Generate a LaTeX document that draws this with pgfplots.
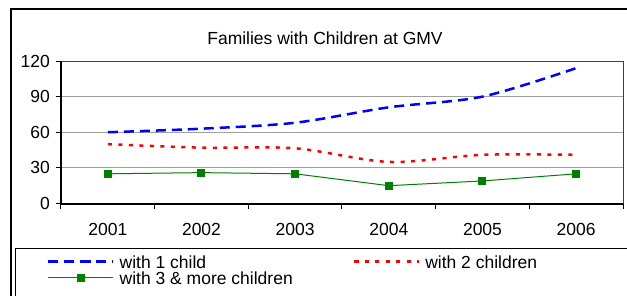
\documentclass[border=0pt]{standalone}
\usepackage{fontspec}
\setmainfont{Liberation Sans}
\usepackage{pgfplots}
\pgfplotsset{compat=1.18}
\definecolor{xlblue}{RGB}{0,0,255}
\definecolor{xlred}{RGB}{255,0,0}
\definecolor{xlgreen}{RGB}{0,128,0}
\begin{document}
\fontsize{17.5}{20}\selectfont
\begin{tikzpicture}[x=1pt,y=1pt]
\begin{axis}[
  scale only axis, width=562pt, height=142.5pt,
  xmin=0.5, xmax=6.5, ymin=0, ymax=120,
  ytick={0,30,60,90,120},
  xtick={1,2,3,4,5,6},
  xticklabels={2001,2002,2003,2004,2005,2006},
  minor xtick={0.5,1.5,2.5,3.5,4.5,5.5,6.5},
  major x tick style={draw=none},
  tick align=outside,
  major tick length=5pt, minor tick length=5pt,
  tick style={black, line width=1pt},
  xtick pos=bottom, ytick pos=left,
  ymajorgrids,
  grid style={gray!75, line width=0.8pt},
  axis line style={draw=black!75, line width=1pt},
  /pgf/number format/assume math mode=true,
  ticklabel style={font=\fontsize{17.5}{20}\selectfont},
  yticklabel style={anchor=east, inner sep=0pt, xshift=-6pt},
  xticklabel style={anchor=base, inner sep=0pt, yshift=-27pt},
  legend columns=2,
  legend cell align=left,
  legend style={at={(-0.025,-0.361)}, anchor=north west, draw=none, fill=none,
    inner sep=0pt, row sep=3pt,
    font=\fontsize{17.5}{20}\selectfont,
    nodes={inner sep=0pt, text height=13pt, text depth=0pt},
    /tikz/every odd column/.append style={column sep=5pt},
    /tikz/every even column/.append style={column sep=60pt}},
  legend image code/.code={\draw[mark repeat=2,mark phase=2,#1] plot coordinates {(0pt,0pt) (32.5pt,0pt) (65pt,0pt)};},
  clip=false
]
\addplot[xlblue, line width=2.5pt, dash pattern=on 10pt off 6pt, smooth, tension=0.5] coordinates {(1,60) (2,63) (3,68) (4,81) (5,90) (6,114)};
\addlegendentry{with 1 child}
\addplot[xlred, line width=2.5pt, dash pattern=on 4pt off 6.5pt, smooth, tension=0.5] coordinates {(1,50) (2,47) (3,46.5) (4,35) (5,41) (6,41)};
\addlegendentry{with 2 children}
\addplot[xlgreen, line width=1pt, mark=square*, mark size=3.5pt, mark options={solid, fill=xlgreen, draw=xlgreen}] coordinates {(1,25) (2,26) (3,25) (4,15) (5,19) (6,25)};
\addlegendentry{with 3 \& more children}
\draw[black, line width=2pt] (rel axis cs:0,1) -- (rel axis cs:0,0) -- (rel axis cs:1,0);
\coordinate (O) at (rel axis cs:0,0);
\end{axis}
\begin{scope}[shift={(O)}, xshift=-61pt, yshift=-91.5pt]
\draw[line width=1.2pt] (11,-5) -- (11,286) -- (640,286);
\draw[line width=1pt] (16,-5) -- (16,47) -- (640,47);
\node[anchor=base,inner sep=0pt] at (325,250) {Families with Children at GMV};
\pgfresetboundingbox
\path[use as bounding box] (0,0) rectangle (627,295);
\end{scope}
\end{tikzpicture}
\end{document}
